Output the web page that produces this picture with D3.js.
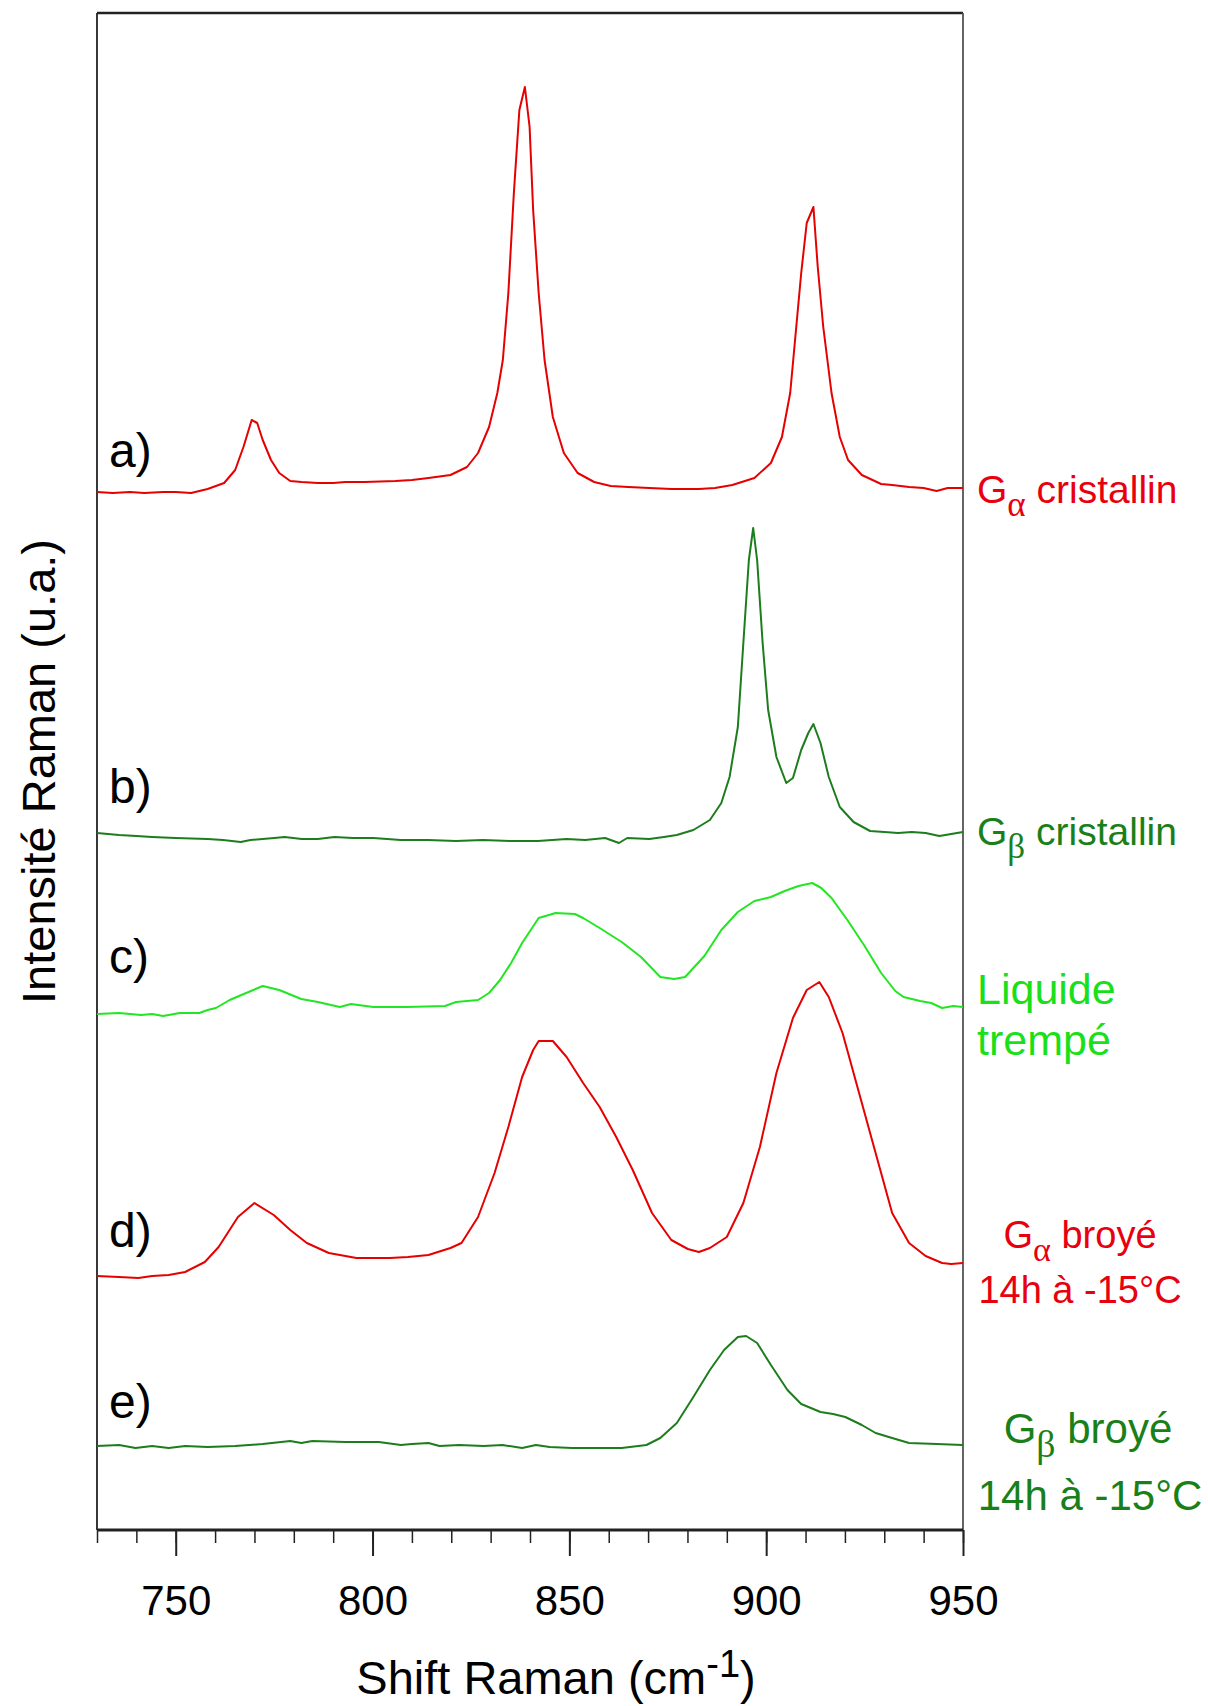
<!DOCTYPE html>
<html>
<head>
<meta charset="utf-8">
<script src="https://cdn.jsdelivr.net/npm/d3@7"></script>
<style>
  html, body { margin: 0; padding: 0; background: #fff; }
  svg { display: block; }
  text { font-family: Arial, "Liberation Sans", sans-serif; }
</style>
</head>
<body>
<div id="chart"></div>
<script>
// ---------------- DATA ----------------
const xDomain = [730, 950];
const yDomain = [0, 151.7];           // arbitrary intensity units (stacked spectra)
const minorTicks = d3.range(730, 951, 10);
const majorTicks = [750, 800, 850, 900, 950];
const xTitle = "Shift Raman (cm";
const xTitleSup = "-1";
const yTitle = "Intensité Raman (u.a.)";

// a) G alpha cristallin
const specA_x = [730,734,738.4,742,746.8,750,753.9,758.1,762.3,765.1,767.2,769.3,770.7,772.1,774.2,776.3,779.1,782,786.1,790,793.1,798,805.8,810,814.2,819.8,824,826.8,829.6,831.7,833.1,834.5,835.9,837.3,838.7,839.9,840.8,842.2,843.7,845.8,848.6,852.1,856.3,860.5,865,870.3,876,882.9,887,891.4,897,901.2,904,906.1,907.5,908.9,910.3,912,913.1,914.5,916.6,918.7,920.8,924.3,929.2,932,936.3,940,943.3,946.1,950];
const specA_y = [103.8,103.7,103.8,103.7,103.8,103.8,103.7,104.1,104.7,106.0,108.3,111.0,110.7,109.0,107.0,105.7,104.9,104.8,104.7,104.7,104.8,104.8,104.9,105.0,105.2,105.5,106.3,107.7,110.3,113.7,117.0,123.7,133.7,142.0,144.3,140.3,132.0,123.7,117.0,111.3,107.7,105.7,104.8,104.4,104.3,104.2,104.1,104.1,104.2,104.5,105.2,106.7,109.3,113.7,119.7,125.7,130.7,132.3,126.3,120.3,113.7,109.3,107.0,105.5,104.6,104.5,104.3,104.2,103.9,104.2,104.2];

// b) G beta cristallin
const specB_x = [730,735.6,740,744,750,758.1,762,766.5,769,772.1,775,777.7,782,786.1,790.3,795,800.2,807.2,814,821.2,828,835.2,842,849.3,854,859.1,862.6,864.7,870.3,874,877.3,881.5,885.7,888.6,890.7,892.8,894.2,895.6,896.7,897.7,899.1,900.5,902.6,905.1,906.8,908.9,910.7,912,913.8,915.9,918.7,922.2,926.4,930,933.5,937,940.5,944,947,950];
const specB_y = [69.7,69.5,69.4,69.3,69.2,69.1,69.0,68.8,69.0,69.1,69.2,69.3,69.1,69.1,69.3,69.2,69.2,69.0,69.0,68.9,69.0,68.9,68.9,69.1,69.0,69.2,68.7,69.2,69.1,69.3,69.5,70.0,71.0,72.7,75.3,80.3,88.7,97.0,100.2,97.0,88.7,82.0,77.3,74.7,75.2,78.0,79.7,80.6,78.7,75.3,72.3,70.8,69.9,69.8,69.7,69.8,69.7,69.4,69.6,69.8];

// c) Liquide trempé
const specC_x = [730,735.6,741.2,744,746.8,751,756,758.1,760.2,763.7,767.9,772.1,776.3,781.9,786.1,791.7,794.5,800.2,808.6,818.4,821.2,826.8,829.6,832.4,835.2,838,842.2,846.5,851.4,853.5,857.7,863.3,868.2,873.1,876.6,879.4,884.3,888.6,892.8,897,901.2,904.7,908.2,911.7,914,916.6,920.8,925,929.2,932.8,934.9,939.1,941.9,944.7,947.5,950];
const specC_y = [51.6,51.7,51.5,51.6,51.4,51.7,51.7,52.0,52.2,53.0,53.7,54.4,54.0,53.1,52.8,52.3,52.6,52.3,52.3,52.4,52.8,53.0,53.7,55.0,56.7,58.7,61.2,61.7,61.6,61.2,60.2,58.8,57.3,55.3,55.1,55.3,57.4,60.0,61.8,62.9,63.3,63.9,64.4,64.7,64.2,63.2,60.9,58.4,55.7,53.9,53.3,52.9,52.7,52.2,52.4,52.3];

// d) G alpha broyé 14h à -15°C
const specD_x = [730,735.6,740.5,744,748.2,752.4,757.4,760.9,765.8,770,774.9,779.1,783.3,788.9,795.9,800,804.4,809,814.2,819.8,822.6,826.8,831,834.5,838,840.8,842.2,845.8,849.3,853.5,857.7,861.9,866.1,871,875.9,880.1,882.9,885.7,890,894.2,898.4,902.6,906.8,910.3,913.5,915.9,919.4,923.6,927.8,932,936.3,940.5,944.7,947,950];
const specD_y = [25.4,25.3,25.2,25.4,25.5,25.8,26.8,28.3,31.3,32.7,31.5,30.0,28.7,27.7,27.2,27.2,27.2,27.3,27.5,28.2,28.7,31.3,35.7,40.3,45.3,48.0,48.9,48.9,47.3,44.7,42.3,39.3,36.0,31.7,29.0,28.1,27.8,28.2,29.3,32.7,38.3,45.7,51.2,54.0,54.8,53.3,49.7,43.7,37.7,31.7,28.7,27.4,26.7,26.6,26.7];

// e) G beta broyé 14h à -15°C
const specE_x = [730,735.6,739.8,744,748.2,752.4,758.1,765.1,772.1,779.1,781.9,784.7,793.1,801.6,807.2,810,814.2,817,822,828.2,833,838,841.5,845,850.7,857,863.3,869.6,873.1,877.3,881.5,885.7,889.3,892.8,894.9,897.7,901.2,905.4,908.9,913.8,917,920.1,924.3,927.8,932,936.3,943.3,950];
const specE_y = [8.4,8.5,8.2,8.4,8.2,8.4,8.3,8.4,8.6,8.9,8.7,8.9,8.8,8.8,8.5,8.6,8.7,8.4,8.5,8.4,8.5,8.2,8.5,8.3,8.2,8.2,8.2,8.5,9.2,10.7,13.3,16.0,18.0,19.3,19.4,18.7,16.5,14.0,12.6,11.8,11.6,11.3,10.5,9.7,9.2,8.7,8.6,8.5];

const seriesLetters = ["a)", "b)", "c)", "d)", "e)"];
const letterLevels = [106.3, 72.7, 55.7, 28.3, 11.2];   // intensity level of each letter baseline
const seriesColors = ["#e60000", "#1d7d1d", "#22e622", "#e60000", "#1d7d1d"];

// ---------------- LAYOUT ----------------
const W = 1208, H = 1706;
const M = { left: 97, right: 963, top: 13, bottom: 1530 };

const svg = d3.select("#chart").append("svg")
  .attr("width", W).attr("height", H)
  .attr("viewBox", `0 0 ${W} ${H}`);
svg.append("rect").attr("width", W).attr("height", H).attr("fill", "#fff");

const x = d3.scaleLinear().domain(xDomain).range([M.left, M.right]);
const y = d3.scaleLinear().domain(yDomain).range([M.bottom, M.top]);

// frame
svg.append("line").attr("x1", M.left).attr("x2", M.right).attr("y1", M.top).attr("y2", M.top)
  .attr("stroke", "#222").attr("stroke-width", 2.5);
svg.append("line").attr("x1", M.left).attr("x2", M.left).attr("y1", M.top).attr("y2", M.bottom)
  .attr("stroke", "#222").attr("stroke-width", 1.8);
svg.append("line").attr("x1", M.right).attr("x2", M.right).attr("y1", M.top).attr("y2", M.bottom)
  .attr("stroke", "#555").attr("stroke-width", 1.8);

// spectra
const spectra = [
  [specA_x, specA_y], [specB_x, specB_y], [specC_x, specC_y], [specD_x, specD_y], [specE_x, specE_y]
];
const line = d3.line().x(d => x(d[0])).y(d => y(d[1]));
spectra.forEach(([xs, ys], i) => {
  svg.append("path")
    .datum(xs.map((v, k) => [v, ys[k]]))
    .attr("d", line)
    .attr("fill", "none")
    .attr("stroke", seriesColors[i])
    .attr("stroke-width", 2)
    .attr("stroke-linejoin", "round");
});

// letters a) .. e)
seriesLetters.forEach((t, i) => {
  svg.append("text")
    .attr("x", M.left + 12)
    .attr("y", y(letterLevels[i]))
    .attr("font-size", 48)
    .attr("fill", "#000")
    .text(t);
});

// x axis: minor ticks
const gMinor = svg.append("g").attr("transform", `translate(0,${M.bottom})`)
  .call(d3.axisBottom(x).tickValues(minorTicks).tickSize(13).tickFormat(""));
gMinor.select(".domain").remove();
gMinor.selectAll(".tick line").attr("stroke", "#222").attr("stroke-width", 1.5);

// x axis: major ticks + labels
const gMajor = svg.append("g").attr("transform", `translate(0,${M.bottom})`)
  .call(d3.axisBottom(x).tickValues(majorTicks).tickSize(26).tickFormat(d3.format("d")));
gMajor.select(".domain").attr("stroke", "#222").attr("stroke-width", 3)
  .attr("d", `M${M.left},0H${M.right}`);
gMajor.selectAll(".tick line").attr("stroke", "#222").attr("stroke-width", 2);
gMajor.selectAll(".tick text")
  .attr("y", 85).attr("dy", null)
  .attr("font-size", 42)
  .attr("font-family", "Arial, 'Liberation Sans', sans-serif")
  .attr("fill", "#000");

// x title
const xt = svg.append("text")
  .attr("x", (M.left + M.right) / 2 + 26).attr("y", 1694)
  .attr("text-anchor", "middle")
  .attr("font-size", 47).attr("fill", "#000");
xt.append("tspan").text(xTitle);
xt.append("tspan").attr("font-size", 38).attr("dy", -17).text(xTitleSup);
xt.append("tspan").attr("dy", 17).text(")");

// y title
svg.append("text")
  .attr("transform", `translate(55,${(M.top + M.bottom) / 2 + 0}) rotate(-90)`)
  .attr("text-anchor", "middle")
  .attr("font-size", 47).attr("fill", "#000")
  .text(yTitle);

// right-hand labels
const greekFont = "'Liberation Serif', 'DejaVu Serif', serif";
function gLabel(xp, yp, greek, rest, size, color, anchor) {
  const t = svg.append("text").attr("x", xp).attr("y", yp)
    .attr("font-size", size).attr("fill", color).attr("text-anchor", anchor || "start");
  t.append("tspan").text("G");
  t.append("tspan").attr("font-family", greekFont).attr("font-size", size * 0.9)
    .attr("dy", size * 0.33).text(greek);
  t.append("tspan").attr("dy", -size * 0.33).text(" " + rest);
  return t;
}
function plain(xp, yp, txt, size, color, anchor) {
  svg.append("text").attr("x", xp).attr("y", yp)
    .attr("font-size", size).attr("fill", color).attr("text-anchor", anchor || "start").text(txt);
}
const redTxt = "#e8000e", dkGreenTxt = "#198019", ltGreenTxt = "#19e019";
gLabel(977, 503, "α", "cristallin", 39, redTxt);
gLabel(977, 845, "β", "cristallin", 39, dkGreenTxt);
plain(977, 1004, "Liquide", 43, ltGreenTxt);
plain(977, 1055, "trempé", 43, ltGreenTxt);
gLabel(1080, 1248, "α", "broyé", 38, redTxt, "middle");
plain(1080, 1303, "14h à -15°C", 38, redTxt, "middle");
gLabel(1088, 1443, "β", "broyé", 42, dkGreenTxt, "middle");
plain(1090, 1510, "14h à -15°C", 42, dkGreenTxt, "middle");
</script>
</body>
</html>
